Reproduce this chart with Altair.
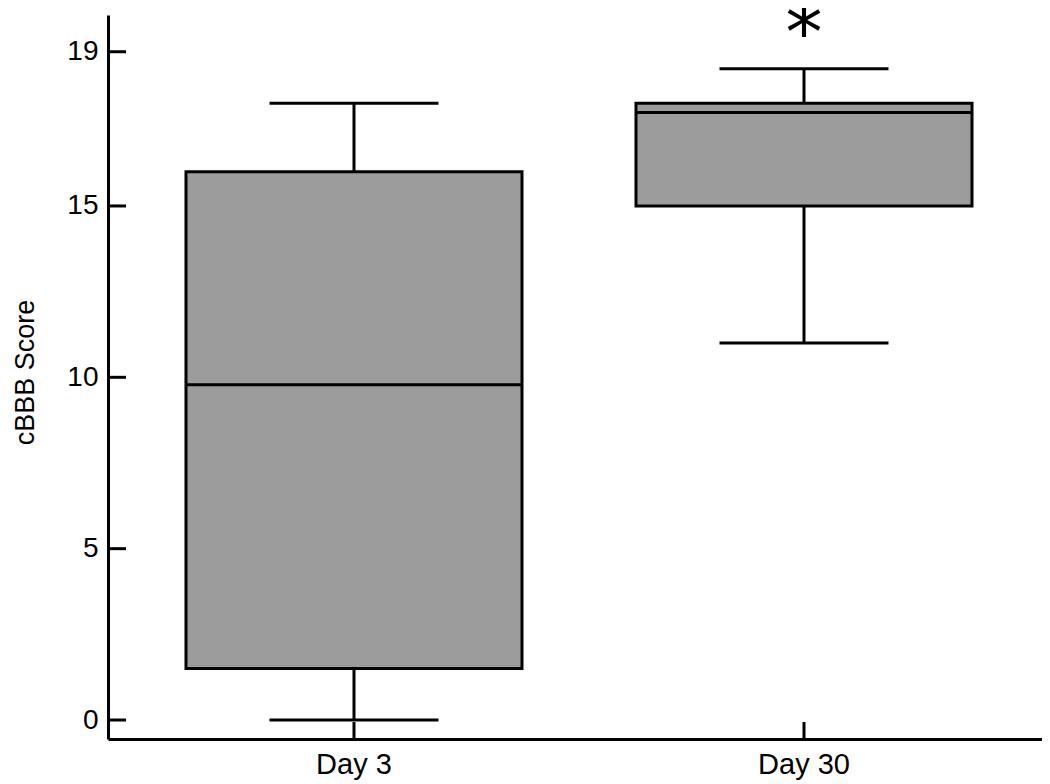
import altair as alt
import pandas as pd

# ---- data ----
groups = ["Day 3", "Day 30"]
whisker_low = [0.0, 11.0]
q1 = [1.5, 15.0]
median = [9.78, 17.73]
q3 = [16.0, 18.0]
whisker_high = [18.0, 19.0]

y_tick_values = [0, 5, 10, 15, 19.5]
y_tick_labels = ["0", "5", "10", "15", "19"]

star_group = ["Day 30"]
star_text = ["*"]
star_y = [20.572]

df = pd.DataFrame({
    "group": groups,
    "low": whisker_low,
    "q1": q1,
    "median": median,
    "q3": q3,
    "high": whisker_high,
})
ticks_df = pd.DataFrame({"v": y_tick_values, "lab": y_tick_labels})
star_df = pd.DataFrame({"group": star_group, "t": star_text, "y": star_y})
xt_df = pd.DataFrame({"group": groups})

W, H = 934, 724
FONT = "Liberation Sans"

label_expr = " : ".join(
    f"datum.value == {v} ? '{l}'" for v, l in zip(y_tick_values, y_tick_labels)
) + " : ''"

xscale = alt.Scale(domain=groups, paddingInner=0, paddingOuter=0.03778, align=0.6176)
yscale = alt.Scale(domain=[-0.554, 20.572], nice=False, zero=False)

x_enc = alt.X(
    "group:N", scale=xscale, sort=groups, title=None,
    axis=alt.Axis(
        labelFont=FONT, labelFontSize=29, labelColor="black", labelAngle=0,
        labelPadding=11, ticks=False, tickSize=0, domainColor="black",
        domainWidth=3, grid=False,
    ),
)

y_axis = alt.Axis(
    values=y_tick_values, labelExpr=label_expr,
    labelFont=FONT, labelFontSize=28, labelColor="black", labelPadding=10,
    ticks=False, tickSize=0, domainColor="black", domainWidth=3, grid=False,
    title="cBBB Score", titleFont=FONT, titleFontSize=27, titleFontWeight="normal",
    titleColor="black", titleX=-75, titleY=357, titleAngle=-90,
    titleAlign="center", titleBaseline="alphabetic",
)

base = alt.Chart(df)
xs = alt.X("group:N", scale=xscale, sort=groups)

whisk_lo = base.mark_rule(color="black", strokeWidth=3).encode(
    x=x_enc, y=alt.Y("low:Q", scale=yscale, axis=y_axis), y2="q1:Q"
)
whisk_hi = base.mark_rule(color="black", strokeWidth=3).encode(
    x=xs, y=alt.Y("q3:Q", scale=yscale), y2="high:Q"
)
box = base.mark_bar(size=336, fill="#9c9c9c", stroke="black", strokeWidth=3, opacity=1).encode(
    x=xs, y=alt.Y("q1:Q", scale=yscale), y2="q3:Q"
)
med = base.mark_tick(size=336, thickness=3, color="black", opacity=1, orient="horizontal").encode(
    x=xs, y=alt.Y("median:Q", scale=yscale)
)
cap_lo = base.mark_tick(size=169, thickness=3, color="black", opacity=1, orient="horizontal").encode(
    x=xs, y=alt.Y("low:Q", scale=yscale)
)
cap_hi = base.mark_tick(size=169, thickness=3, color="black", opacity=1, orient="horizontal").encode(
    x=xs, y=alt.Y("high:Q", scale=yscale)
)

# inward tick marks
ytick_marks = alt.Chart(ticks_df).mark_rule(color="black", strokeWidth=3).encode(
    y=alt.Y("v:Q", scale=yscale), x=alt.value(0), x2=alt.value(18)
)
xtick_marks = alt.Chart(xt_df).mark_rule(color="black", strokeWidth=3).encode(
    x=xs, y=alt.value(H), y2=alt.value(H - 17)
)

star = alt.Chart(star_df).mark_text(
    font="DejaVu Sans", fontSize=74, color="black", baseline="top", align="center", dy=-15
).encode(
    x=xs, y=alt.Y("y:Q", scale=yscale), text="t:N"
)

chart = alt.layer(
    whisk_lo, whisk_hi, box, med, cap_lo, cap_hi, ytick_marks, xtick_marks, star
).properties(
    width=W, height=H,
    autosize=alt.AutoSizeParams(type="none"),
    padding={"left": 100, "top": 7, "right": 0, "bottom": 45},
    background="white",
).configure_view(stroke=None)

chart.save("out.html", embed_options={"renderer": "svg", "actions": False})
